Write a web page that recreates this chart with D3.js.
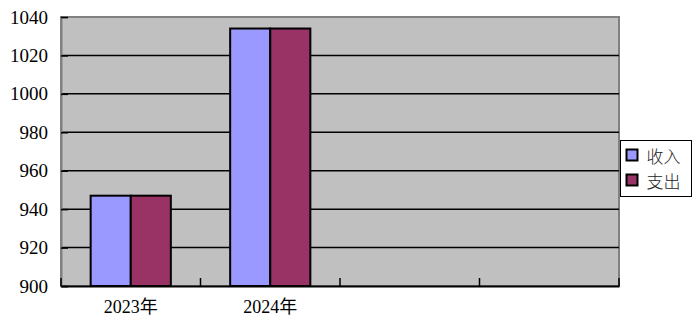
<!DOCTYPE html>
<html>
<head>
<meta charset="utf-8">
<script src="https://cdn.jsdelivr.net/npm/d3@7"></script>
<style>
body { margin: 0; background: #fff; }
</style>
</head>
<body>
<div id="chart"></div>
<script>
var categories = ["2023年", "2024年", "", " "];
var seriesNames = ["收入", "支出"];
var income = [947, 1034];
var expense = [947, 1034];
var yTicks = [900, 920, 940, 960, 980, 1000, 1020, 1040];

var width = 695, height = 334;
var plotLeft = 61, plotRight = 619, plotTop = 17, plotBottom = 286;
var colors = ["#9999FF", "#993366"];
var serif = "Liberation Serif, Noto Sans CJK SC, serif";

var svg = d3.select("#chart").append("svg")
	.attr("width", width)
	.attr("height", height);

var x = d3.scaleBand().domain(categories).range([plotLeft, plotRight]).paddingInner(0).paddingOuter(0);
var x1 = d3.scaleBand().domain(seriesNames).range([0, x.bandwidth()]).paddingOuter(0.74).paddingInner(0);
var y = d3.scaleLinear().domain([900, 1040]).range([plotBottom, plotTop]);

// plot background
svg.append("rect")
	.attr("x", plotLeft).attr("y", plotTop)
	.attr("width", plotRight - plotLeft).attr("height", plotBottom - plotTop)
	.attr("fill", "#C0C0C0")
	.attr("stroke", "#808080")
	.attr("stroke-width", 2);

// grid lines
svg.append("g").selectAll("line")
	.data(yTicks.filter(function(d) { return d > 900 && d < 1040; }))
	.enter().append("line")
	.attr("x1", plotLeft).attr("x2", plotRight)
	.attr("y1", function(d) { return y(d); })
	.attr("y2", function(d) { return y(d); })
	.attr("stroke", "#000")
	.attr("stroke-width", 1.5);

// bars
var rows = categories.map(function(c, i) {
	return { cat: c, vals: [income[i], expense[i]] };
}).filter(function(d) { return d.vals[0] !== undefined; });

svg.append("g").selectAll("g")
	.data(rows)
	.enter().append("g")
	.attr("transform", function(d) { return "translate(" + x(d.cat) + ",0)"; })
	.selectAll("rect")
	.data(function(d) { return d.vals.map(function(v, i) { return { name: seriesNames[i], v: v, i: i }; }); })
	.enter().append("rect")
	.attr("x", function(d) { return x1(d.name); })
	.attr("y", function(d) { return y(d.v); })
	.attr("width", x1.bandwidth())
	.attr("height", function(d) { return plotBottom - y(d.v); })
	.attr("fill", function(d) { return colors[d.i]; })
	.attr("stroke", "#000")
	.attr("stroke-width", 2);

// y axis
var yAxis = svg.append("g")
	.attr("transform", "translate(" + plotLeft + ",0)")
	.call(d3.axisLeft(y).tickValues(yTicks).tickSize(-7).tickPadding(13).tickFormat(d3.format("d")))
	.attr("font-family", serif)
	.attr("font-size", 19);
yAxis.select(".domain").attr("stroke", "#808080").attr("stroke-width", 2);
yAxis.selectAll(".tick line").attr("stroke", "#000").attr("stroke-width", 1.5);
yAxis.selectAll("text").attr("fill", "#000");

// x axis
var xAxis = svg.append("g")
	.attr("transform", "translate(0," + plotBottom + ")")
	.call(d3.axisBottom(x).tickSize(0).tickPadding(16))
	.attr("font-family", serif)
	.attr("font-size", 18);
xAxis.select(".domain").attr("stroke", "#000").attr("stroke-width", 2);
xAxis.selectAll("text").attr("fill", "#000").attr("dy", "0.6em");

// category separator ticks
svg.append("g").selectAll("line")
	.data(x.domain().map(function(c) { return x(c); }).concat([plotRight]))
	.enter().append("line")
	.attr("x1", function(d) { return d; }).attr("x2", function(d) { return d; })
	.attr("y1", plotBottom).attr("y2", plotBottom - 8)
	.attr("stroke", "#000")
	.attr("stroke-width", 1.5);

// legend
var legend = svg.append("g").attr("transform", "translate(620.5,140.5)");
legend.append("rect")
	.attr("width", 71).attr("height", 56)
	.attr("fill", "#fff")
	.attr("stroke", "#000")
	.attr("stroke-width", 1);
var item = legend.selectAll(".item")
	.data(seriesNames)
	.enter().append("g")
	.attr("class", "item")
	.attr("transform", function(d, i) { return "translate(6," + (8 + i * 25) + ")"; });
item.append("rect")
	.attr("width", 11).attr("height", 11)
	.attr("y", 1)
	.attr("fill", function(d, i) { return colors[i]; })
	.attr("stroke", "#000")
	.attr("stroke-width", 2);
item.append("text")
	.attr("x", 20).attr("y", 14)
	.attr("font-size", 17)
	.attr("fill", "#222")
	.attr("font-family", "Noto Sans CJK SC, sans-serif")
	.attr("font-weight", 300)
	.text(function(d) { return d; });
</script>
</body>
</html>
